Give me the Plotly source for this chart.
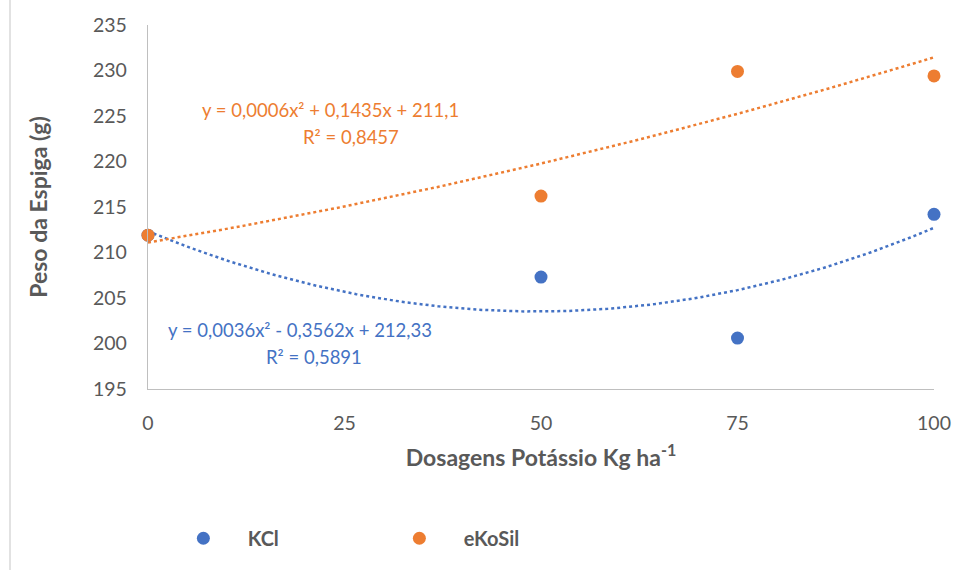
import numpy as np
import plotly.graph_objects as go

# ---- data ----
doses = [0, 50, 75, 100]
kcl = [211.9, 207.3, 200.6, 214.2]
ekosil = [211.9, 216.2, 229.9, 229.4]

# trendline coefficients (a, b, c) as printed on the chart
kcl_coef = [0.0036, -0.3562, 212.33]
ekosil_coef = [0.0006, 0.1435, 211.1]
kcl_eq = ["y = 0,0036x² - 0,3562x + 212,33", "R² = 0,5891"]
ekosil_eq = ["y = 0,0006x² + 0,1435x + 211,1", "R² = 0,8457"]

x_ticks = [0, 25, 50, 75, 100]
y_ticks = [195, 200, 205, 210, 215, 220, 225, 230, 235]

BLUE = "#4472C4"
ORANGE = "#ED7D31"
GRAY = "#595959"
FONT = "Lato, 'Open Sans', sans-serif"

xs = np.linspace(0, 100, 201)
def poly(c, x):
    return c[0] * x ** 2 + c[1] * x + c[2]

NB = "\u00a0"
fig = go.Figure()
fig.add_trace(go.Scatter(x=xs, y=poly(kcl_coef, xs), mode="lines",
                         line=dict(color=BLUE, width=2.5, dash="dot"),
                         showlegend=False, hoverinfo="skip", cliponaxis=False))
fig.add_trace(go.Scatter(x=xs, y=poly(ekosil_coef, xs), mode="lines",
                         line=dict(color=ORANGE, width=2.5, dash="dot"),
                         showlegend=False, hoverinfo="skip", cliponaxis=False))
fig.add_trace(go.Scatter(x=doses, y=kcl, mode="markers", name=NB * 5 + "KCl",
                         marker=dict(color=BLUE, size=13), cliponaxis=False))
fig.add_trace(go.Scatter(x=doses, y=ekosil, mode="markers", name=NB * 5 + "eKoSil",
                         marker=dict(color=ORANGE, size=13), cliponaxis=False))

def px_to_data(px_x, px_y):
    return (px_x - 148) / 786 * 100, 235 - (px_y - 25) / 364 * 40

annos = []
for (txt, cx, cy, col) in [(ekosil_eq[0], 330, 110, ORANGE), (ekosil_eq[1], 351, 137, ORANGE),
                           (kcl_eq[0], 300, 330, BLUE), (kcl_eq[1], 314, 357, BLUE)]:
    dx, dy = px_to_data(cx, cy)
    annos.append(dict(x=dx, y=dy, xref="x", yref="y", text=txt, showarrow=False,
                      font=dict(family=FONT, size=18.5, color=col), xanchor="center", yanchor="middle"))

fig.update_layout(
    width=957, height=570,
    margin=dict(l=148, r=23, t=25, b=181),
    paper_bgcolor="white", plot_bgcolor="white",
    font=dict(family=FONT, color=GRAY, size=19),
    annotations=annos,
    legend=dict(orientation="h", x=0.045, xanchor="left", y=-0.41, yanchor="middle",
                entrywidth=171, entrywidthmode="pixels",
                font=dict(family=FONT, size=20, color=GRAY, weight="bold"),
                bgcolor="rgba(0,0,0,0)"),
    xaxis=dict(range=[0, 100], tickvals=x_ticks, showgrid=False, zeroline=False,
               showline=True, linecolor="#BFBFBF", linewidth=1.3,
               ticks="", ticklabelstandoff=16, automargin=False,
               tickfont=dict(family=FONT, size=19.5, color=GRAY),
               title=dict(text="Dosagens Potássio Kg ha<sup>-1</sup>", standoff=17,
                          font=dict(family=FONT, size=23, color=GRAY, weight="bold"))),
    yaxis=dict(range=[195, 235], tickvals=y_ticks, showgrid=False, zeroline=False,
               showline=True, linecolor="#BFBFBF", linewidth=1.3,
               ticks="", ticklabelstandoff=16,
               tickfont=dict(family=FONT, size=19.5, color=GRAY),
               title=dict(text="Peso da Espiga (g)", standoff=38,
                          font=dict(family=FONT, size=23, color=GRAY, weight="bold"))),
    shapes=[dict(type="line", xref="paper", yref="paper", x0=-138 / 786, x1=-138 / 786,
                 y0=-1, y1=1.2, line=dict(color="#D9D9D9", width=1.5))],
)

fig.write_html("out.html")
